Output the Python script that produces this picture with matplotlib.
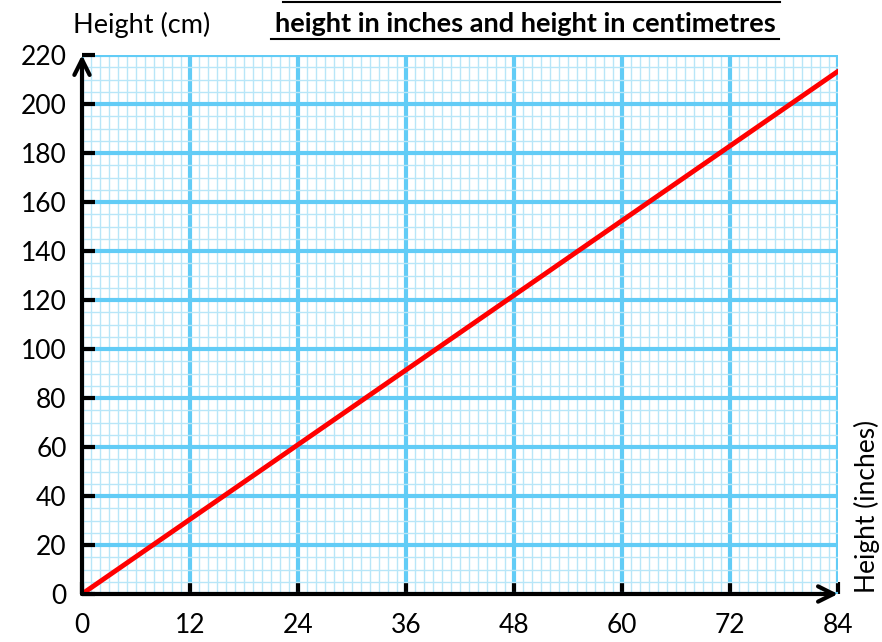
import matplotlib
matplotlib.use("Agg")
import matplotlib.pyplot as plt
from matplotlib.ticker import MultipleLocator
from matplotlib.lines import Line2D

inches = [0, 84]
centimetres = [0, 213.36]
x_ticks = [0, 12, 24, 36, 48, 60, 72, 84]
y_ticks = [0, 20, 40, 60, 80, 100, 120, 140, 160, 180, 200, 220]
title = "height in inches and height in centimetres"
y_label = "Height (cm)"
x_label = "Height (inches)"

plt.rcParams['font.family'] = ['Lato', 'DejaVu Sans']

fig = plt.figure(figsize=(8.82, 6.42), dpi=100)
ax = fig.add_axes([82/882, 48/642, 756/882, 539/642])
ax.set_xlim(0, 84)
ax.set_ylim(0, 220)

ax.xaxis.set_minor_locator(MultipleLocator(1))
ax.yaxis.set_minor_locator(MultipleLocator(5))
ax.grid(which='minor', color='#b8e6f8', lw=1.0, zorder=0)
ax.grid(which='major', color='#62ccf6', lw=3.0, zorder=0.5)
ax.set_axisbelow(True)

for s in ax.spines.values():
    s.set_visible(False)

ax.set_xticks(x_ticks)
ax.set_yticks(y_ticks)
ax.set_xticklabels([str(v) for v in x_ticks])
ax.set_yticklabels([str(v) for v in y_ticks])
ax.tick_params(which='major', direction='in', length=9, width=3, color='black',
               labelsize=19)
ax.tick_params(axis='x', pad=14)
ax.tick_params(axis='y', pad=11)
ax.tick_params(which='minor', length=0)

ax.plot(inches, centimetres, color='#ff0000', lw=3.5, zorder=5, solid_capstyle='round')

# axes with arrows
astyle = '->,head_length=1.1,head_width=0.55'
ax.annotate('', xy=(84, 0), xytext=(0, 0), xycoords='data',
            arrowprops=dict(arrowstyle=astyle, lw=3, color='black',
                            shrinkA=0, shrinkB=0), annotation_clip=False, zorder=6)
ax.annotate('', xy=(0, 220), xytext=(0, 0), xycoords='data',
            arrowprops=dict(arrowstyle=astyle, lw=3, color='black',
                            shrinkA=0, shrinkB=0), annotation_clip=False, zorder=6)

fig.text(73/882, 1 - 25/642, y_label, fontsize=19.5, ha='left', va='center')
fig.text(867/882, 1 - 506/642, x_label, fontsize=19, ha='center', va='center', rotation=90)

fig.text(525/882, 1 - 24/642, title, fontsize=19.5, fontweight='bold', ha='center', va='center')
# underline and top rule
fig.add_artist(Line2D([271/882, 779/882], [1 - 39/642, 1 - 39/642], color='black', lw=1.5,
                      transform=fig.transFigure))
fig.add_artist(Line2D([283/882, 780/882], [1 - 2/642, 1 - 2/642], color='black', lw=1.5,
                      transform=fig.transFigure))

fig.savefig('out.png', dpi=100)
